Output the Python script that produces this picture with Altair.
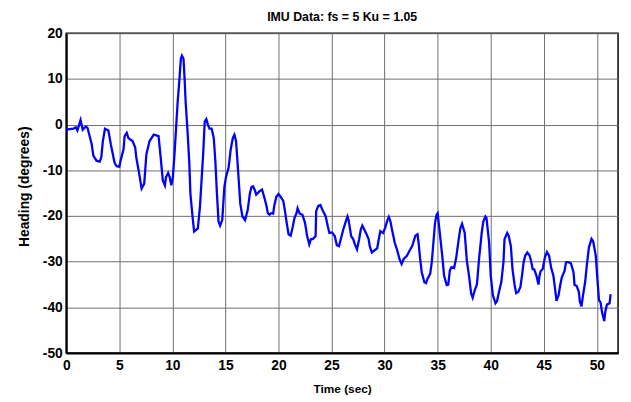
import altair as alt
import pandas as pd

time_sec = [
    0, 0.68, 0.9, 1.05, 1.35, 1.55, 1.85, 2.0, 2.4, 2.55, 2.85, 3.15, 3.3, 3.45, 3.65, 3.97,
    4.2, 4.55, 4.75, 5.0, 5.15, 5.4, 5.5, 5.7, 5.85, 6.0, 6.25, 6.5, 6.6, 6.85, 7.1, 7.35,
    7.55, 7.85, 8.25, 8.7, 8.9, 9.1, 9.3, 9.4, 9.6, 9.75, 9.9, 10.05, 10.2, 10.35, 10.5,
    10.65, 10.8, 10.9, 11.05, 11.15, 11.25, 11.45, 11.6, 11.7, 11.9, 12.05, 12.4, 12.6,
    12.75, 12.9, 13.05, 13.2, 13.35, 13.5, 13.7, 13.9, 14.05, 14.2, 14.35, 14.5, 14.7,
    14.9, 15.05, 15.3, 15.5, 15.7, 15.85, 16.0, 16.15, 16.4, 16.6, 16.85,
    17.1, 17.3, 17.45, 17.6, 17.75, 17.9, 18.2, 18.45, 18.65, 18.85, 19.0, 19.15, 19.3,
    19.5, 19.6, 19.8, 20.0, 20.15, 20.45, 20.6, 20.8, 20.95, 21.15, 21.35, 21.5, 21.7,
    21.8, 22.0, 22.25, 22.5, 22.7, 22.9, 23.05, 23.25, 23.5, 23.55, 23.75, 23.95, 24.15,
    24.45, 24.65, 24.8, 25.05, 25.3, 25.5, 25.7, 25.9, 26.1, 26.3, 26.5, 26.6, 26.85,
    27.05, 27.2, 27.4, 27.6, 27.75, 27.9, 28.05, 28.3, 28.5, 28.6, 28.8, 29.0, 29.3,
    29.45, 29.6, 29.85, 30.05, 30.25, 30.4, 30.55, 30.7, 30.95, 31.2, 31.4, 31.6, 31.8,
    32.1, 32.35, 32.6, 32.9, 33.1, 33.2, 33.35, 33.5, 33.75, 33.9, 34.05, 34.3, 34.45,
    34.6, 34.75, 34.9, 35.0,
    35.2, 35.45, 35.6, 35.85, 36.0, 36.15, 36.3, 36.55, 36.75, 37.0, 37.15, 37.3, 37.55,
    37.75, 37.95, 38.15, 38.3, 38.5, 38.7, 38.9, 39.15, 39.3, 39.5, 39.6, 39.85, 40.0,
    40.2, 40.45, 40.6, 40.75, 41.0, 41.2, 41.3, 41.55, 41.7, 41.9, 42.05, 42.25, 42.4,
    42.6, 42.8, 42.95, 43.1, 43.25, 43.45, 43.65, 43.8, 43.95, 44.1, 44.3, 44.5, 44.6,
    44.7, 44.9, 45.1, 45.3, 45.5, 45.7, 45.9, 46.1, 46.2, 46.4, 46.55, 46.7, 46.95, 47.1,
    47.3, 47.55, 47.8, 47.9, 48.1, 48.3, 48.4, 48.55, 48.7, 48.9, 49.05, 49.25, 49.5,
    49.65, 49.9, 50.05, 50.2, 50.35, 50.5, 50.7, 50.8, 50.95, 51.2, 51.3,
]

heading_deg = [
    -1.1, -0.9, -0.6, -1.3, 1.0, -1.1, -0.4, -0.7, -4.3, -6.8, -7.9, -8.1, -7.2, -3.6, -0.9, -1.3,
    -4.3, -8.3, -9.1, -9.2, -7.6, -5.4, -2.5, -1.8, -2.9, -3.2, -3.6, -5.0, -7.2, -10.4, -14.0, -12.9,
    -6.5, -3.6, -2.2, -2.5, -7.2, -12.2, -13.3, -11.5, -10.6, -11.5, -13.3, -11.5, -6.5, -0.7, 5.0,
    9.4, 14.4, 15.1, 14.4, 10.1, 5.0, -2.2, -8.6, -15.1, -20.1, -23.4, -22.7, -18.0,
    -12.2, -6.5, 0.7, 1.2, 0.0, -0.9, -0.9, -2.9, -7.9, -15.1, -21.2, -22.1, -20.9,
    -13.7, -11.5, -9.4, -5.4, -2.9, -2.2, -3.6, -8.6, -17.3, -20.1, -20.9,
    -18.7, -15.1, -13.7, -13.5, -14.2, -15.3, -14.6, -14.2, -15.8, -17.6, -19.4, -19.7, -19.4,
    -19.5, -17.8, -15.8, -15.2, -15.6, -16.7, -18.7, -21.9, -24.0, -24.3, -22.3, -20.5, -19.4,
    -18.3, -19.5, -19.7, -21.5, -24.4, -26.2, -25.1, -25.0, -24.4, -19.0, -17.8, -17.6, -18.7,
    -20.1, -22.3, -23.7, -23.6, -24.4, -26.4, -26.6, -24.8, -23.0, -21.5, -20.1, -20.8, -24.4,
    -25.1, -26.2, -27.3, -25.1, -23.0, -22.1, -22.8, -24.0, -25.1, -26.6, -28.0, -27.6, -27.1,
    -25.1, -23.3, -23.7, -22.6, -21.0, -20.2, -21.2, -23.0, -25.8, -27.6, -29.4, -30.5, -29.4,
    -28.7, -27.6, -26.6, -24.3, -24.0, -25.8, -29.4, -32.3, -34.5, -34.7, -33.7, -32.6, -30.0,
    -25.8, -21.5, -19.7, -19.4,
    -23.7, -29.1, -33.0, -35.1, -35.0, -31.9, -31.2, -31.4, -29.1, -24.8, -22.6, -21.7, -23.7,
    -29.8, -33.0, -36.9, -37.9, -36.2, -35.0, -29.4, -23.7, -21.2, -20.1, -20.4, -25.9, -33.0,
    -37.3, -39.1, -38.6, -36.9, -34.4, -30.1, -25.1, -23.7, -24.4, -26.6, -31.6, -35.1, -36.9,
    -36.6, -35.5, -33.0, -30.1, -28.7, -28.0, -28.6, -29.8, -31.6, -31.7, -33.0, -35.0, -33.0,
    -32.1, -31.6, -29.1, -27.9, -28.7, -31.4, -33.0, -36.6, -38.6, -37.3, -35.1, -33.4, -32.1, -30.1,
    -30.1, -30.3, -32.3, -35.1, -35.3, -36.6, -38.7, -39.8, -37.3, -34.4, -30.9, -26.9, -25.0,
    -25.5, -28.7, -33.7, -38.4, -38.9, -41.2, -43.0, -40.9, -39.4, -39.1, -37.1,
]

x_ticks = [0, 5, 10, 15, 20, 25, 30, 35, 40, 45, 50]
y_ticks = [-50, -40, -30, -20, -10, 0, 10, 20]

df = pd.DataFrame({"t": time_sec, "h": heading_deg})

font = "Liberation Sans, Arial, Helvetica, sans-serif"

chart = (
    alt.Chart(df)
    .mark_line(color="#0000FF", strokeWidth=2.3)
    .encode(
        x=alt.X(
            "t:Q",
            scale=alt.Scale(domain=[0, 52], nice=False, zero=False),
            axis=alt.Axis(values=x_ticks, title="Time (sec)", labelExpr="'' + datum.value",
                          titleFontSize=12, titlePadding=11),
        ),
        y=alt.Y(
            "h:Q",
            scale=alt.Scale(domain=[-50, 20], nice=False, zero=False),
            axis=alt.Axis(values=y_ticks, title="Heading (degrees)", labelExpr="'' + datum.value",
                          titleFontSize=14, titlePadding=11, titleY=155),
        ),
        order="t:Q",
    )
    .properties(
        width=559,
        height=324,
        title=alt.TitleParams(
            "IMU Data:  fs = 5 Ku = 1.05",
            font=font,
            fontSize=12.5,
            fontWeight="bold",
            color="black",
            anchor="middle",
            dy=1,
        ),
        padding={"left": 59, "top": 23, "right": 5, "bottom": 47},
        autosize=alt.AutoSizeParams(type="none"),
    )
    .configure_view(stroke="black", strokeWidth=1.5)
    .configure_axis(
        grid=True,
        gridColor="#6e6e6e",
        gridWidth=1,
        gridOpacity=1,
        domainColor="black",
        domainWidth=2,
        tickSize=0,
        labelFont=font,
        labelFontSize=14,
        labelFontWeight="bold",
        labelColor="black",
        labelPadding=6,
        labelFlush=False,
        titleFont=font,
        titleFontWeight="bold",
        titleColor="black",
    )
    .configure_axisY(labelPadding=4)
)

chart.save("out.html", embed_options={"renderer": "svg", "actions": False})
